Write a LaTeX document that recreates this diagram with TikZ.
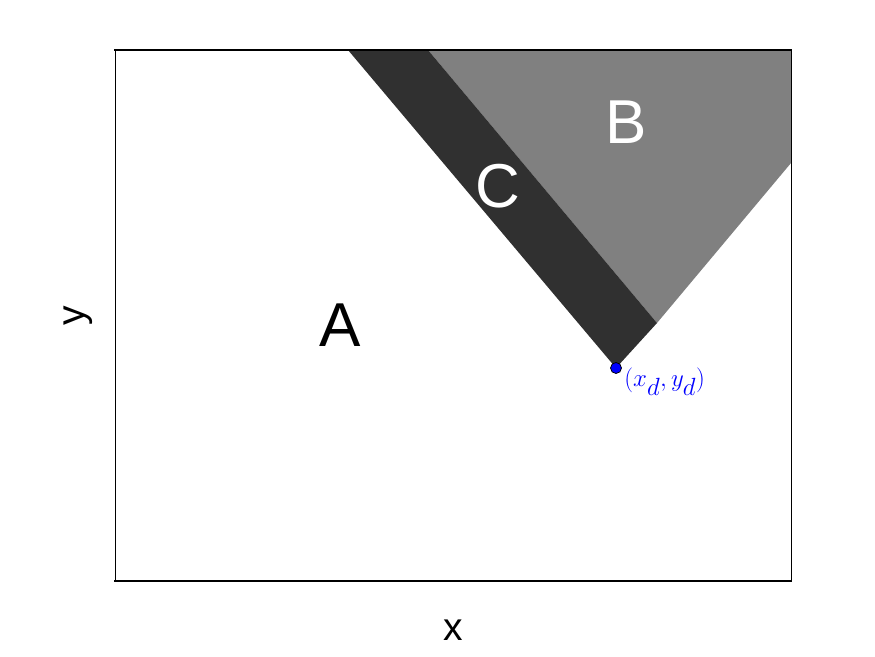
\documentclass[tikz,border=0pt]{standalone}
\usepackage{fontspec}
\setsansfont{Liberation Sans}
\tikzset{every picture/.style={line width=0.75pt}}
\tikzset{
  region/.style={font=\sffamily\fontsize{62}{62}\selectfont, inner sep=0pt},
  axlabel/.style={font=\sffamily\fontsize{39}{39}\selectfont, inner sep=0pt}
}
\begin{document}
\begin{tikzpicture}[x=1pt,y=1pt,yscale=-1,xscale=1]
  \useasboundingbox (0,0) rectangle (875,656);
  %Shape: gray region
  \fill [color={rgb, 255:red, 128; green, 128; blue, 128 }] (428,50) -- (791,50) -- (791,163) -- (657,323) -- cycle ;
  %Shape: dark band
  \fill [color={rgb, 255:red, 48; green, 48; blue, 48 }] (348,50) -- (428,50) -- (657,323) -- (616,368) -- cycle ;
  %Axes box
  \draw [line width=0.8pt] (115,50) -- (115,581) ;
  \draw [line width=0.8pt] (791,50) -- (791,581) ;
  \draw [line width=2pt] (114,50) -- (792,50) ;
  \draw [line width=2pt] (114,581) -- (792,581) ;
  %Point
  \coordinate (xd) at (616,368);
  \draw [fill={rgb, 255:red, 0; green, 0; blue, 255 }] (xd) circle (5.5) ;

  % Text Node
  \node (la) [region] at (340,325) {A};
  \node (lb) [region, white] at (626,122) {B};
  \node (lc) [region, white] at (498,186) {C};
  \node (pt) [anchor=west, inner sep=0pt, blue, font=\fontsize{37}{37}\selectfont] at (624,382) {$(x_d,y_d)$};
  \node (lx) [axlabel] at (453,630) {x};
  \node (ly) [axlabel, rotate=90] at (78,316) {y};
\end{tikzpicture}
\end{document}
